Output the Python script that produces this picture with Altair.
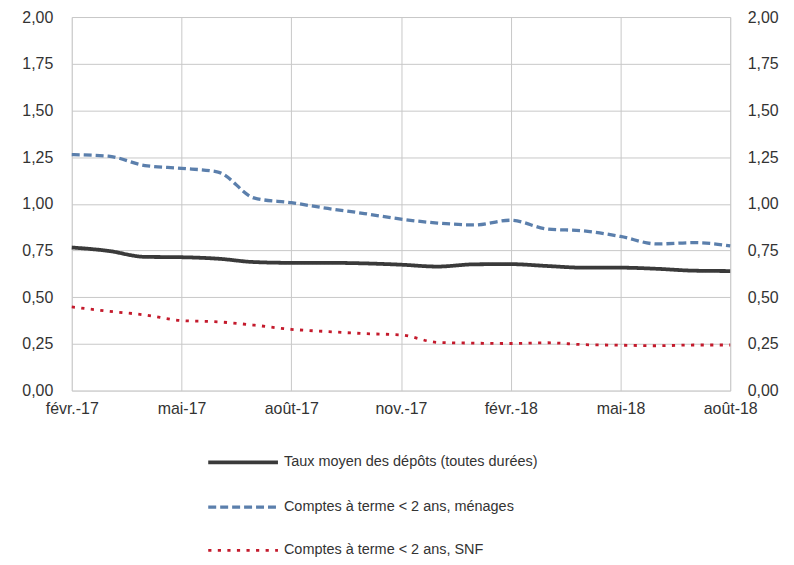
import altair as alt
import pandas as pd

months = ["févr.-17", "mars-17", "avr.-17", "mai-17", "juin-17", "juil.-17", "août-17",
          "sept.-17", "oct.-17", "nov.-17", "déc.-17", "janv.-18", "févr.-18", "mars-18",
          "avr.-18", "mai-18", "juin-18", "juil.-18", "août-18"]
tick_labels = ["févr.-17", "mai-17", "août-17", "nov.-17", "févr.-18", "mai-18", "août-18"]

series_names = ["Taux moyen des dépôts (toutes durées)",
                "Comptes à terme < 2 ans, ménages",
                "Comptes à terme < 2 ans, SNF"]

taux_moyen = [0.766, 0.748, 0.716, 0.714, 0.706, 0.688, 0.684, 0.684, 0.681, 0.674,
              0.664, 0.676, 0.677, 0.667, 0.658, 0.658, 0.652, 0.642, 0.640]
menages = [1.263, 1.255, 1.205, 1.19, 1.17, 1.03, 1.006, 0.975, 0.948, 0.918,
           0.897, 0.887, 0.912, 0.865, 0.855, 0.825, 0.785, 0.792, 0.775]
snf = [0.448, 0.425, 0.405, 0.375, 0.368, 0.350, 0.328, 0.316, 0.305, 0.298,
       0.258, 0.254, 0.252, 0.256, 0.246, 0.243, 0.240, 0.244, 0.244]

rows = []
for name, vals in zip(series_names, [taux_moyen, menages, snf]):
    for m, v in zip(months, vals):
        rows.append({"mois": m, "valeur": v, "serie": name})
df = pd.DataFrame(rows)

y_label_expr = "replace(format(datum.value, '.2f'), '.', ',')"

x_enc = alt.X("mois:O", sort=months, title=None,
              scale=alt.Scale(type="point", padding=0),
              axis=alt.Axis(values=tick_labels, labelAngle=0, grid=True, gridColor="#c8c8c8",
                            domain=False, ticks=False, labelPadding=10, labelFontSize=16,
                            labelFont="Liberation Sans", labelColor="#333333"))

y_scale = alt.Scale(domain=[0, 2])

def y_axis(orient):
    return alt.Axis(orient=orient, values=[0, 0.25, 0.5, 0.75, 1, 1.25, 1.5, 1.75, 2],
                    labelExpr=y_label_expr, grid=(orient == "left"), gridColor="#c8c8c8",
                    domain=False, ticks=False, labelPadding=19 if orient == "left" else 17,
                    labelFontSize=16, labelFont="Liberation Sans", labelColor="#333333")

leg = alt.Legend(title=None, orient="none", legendX=135, legendY=410, direction="vertical",
                 symbolType="stroke", symbolSize=4900, labelFontSize=14.5,
                 labelFont="Liberation Sans", labelColor="#333333", rowPadding=-23,
                 labelOffset=4, padding=0, labelLimit=400)

lines = alt.Chart(df).mark_line(interpolate="monotone", strokeCap="butt").encode(
    x=x_enc,
    y=alt.Y("valeur:Q", scale=y_scale, title=None, axis=y_axis("left")),
    color=alt.Color("serie:N", sort=series_names,
                    scale=alt.Scale(domain=series_names, range=["#3a3a3a", "#5b7fac", "#c41a2c"]),
                    legend=leg),
    strokeDash=alt.StrokeDash("serie:N", sort=series_names,
                              scale=alt.Scale(domain=series_names, range=[[1, 0], [8, 4], [3.2, 6.4]]),
                              legend=leg),
    strokeWidth=alt.StrokeWidth("serie:N", sort=series_names,
                                scale=alt.Scale(domain=series_names, range=[3.8, 2.8, 3.6]),
                                legend=leg),
)

right = alt.Chart(df).mark_line(opacity=0).encode(
    x=x_enc,
    y=alt.Y("valeur:Q", scale=y_scale, title=None, axis=y_axis("right")),
)

chart = alt.layer(lines, right).resolve_axis(y="independent").properties(
    width=661, height=375,
    autosize=alt.AutoSizeParams(type="none"),
    padding={"left": 64, "top": 8, "right": 56, "bottom": 166},
).configure_view(stroke="#000000", strokeWidth=1.2).configure(background="white")

chart.save("out.html", embed_options={"renderer": "svg", "actions": False})
